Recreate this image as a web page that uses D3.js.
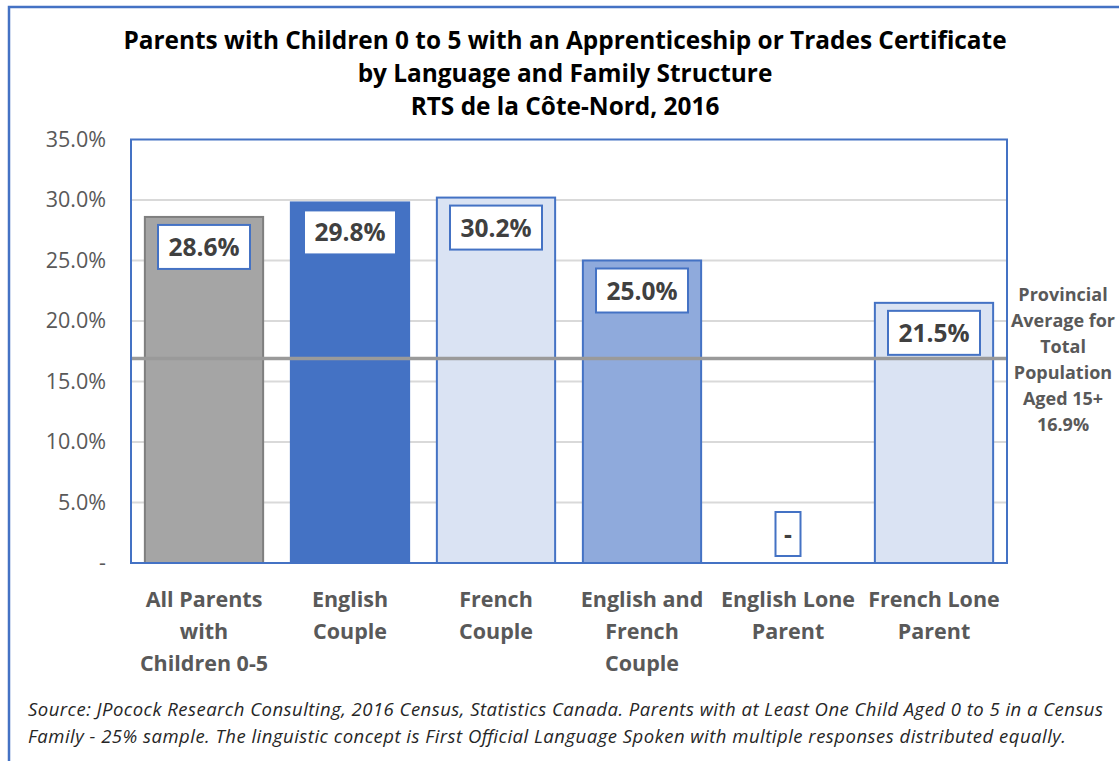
<!DOCTYPE html>
<html><head><meta charset="utf-8">
<script src="https://cdn.jsdelivr.net/npm/d3@7"></script>
<style>body{margin:0;background:#fff}svg{display:block}</style>
</head><body>
<script>
const categories = [["All Parents","with","Children 0-5"],["English","Couple"],["French","Couple"],["English and","French","Couple"],["English Lone","Parent"],["French Lone","Parent"]];
const values = [28.6, 29.8, 30.2, 25.0, 0, 21.5];
const valueLabels = ["28.6%","29.8%","30.2%","25.0%","-","21.5%"];
const fills = ["#a5a5a5","#4472c4","#dae3f3","#8faadc","#dae3f3","#dae3f3"];
const strokes = ["#7f7f7f","#4472c4","#4472c4","#4472c4","#4472c4","#4472c4"];
const yTicks = [0,5,10,15,20,25,30,35];
const provincialAvg = 16.9;
const avgLabel = ["Provincial","Average for","Total","Population","Aged 15+","16.9%"];
const titleLines = ["Parents with Children 0 to 5 with an Apprenticeship or Trades Certificate","by Language and Family Structure","RTS de la Côte-Nord, 2016"];
const sourceLines = ["Source: JPocock Research Consulting, 2016 Census, Statistics Canada. Parents with at Least One Child Aged 0 to 5 in a Census","Family - 25% sample. The linguistic concept is First Official Language Spoken with multiple responses distributed equally."];

const W=1119,H=761;
const svg=d3.select("body").append("svg").attr("width",W).attr("height",H);
const font="'Open Sans', Lato, sans-serif";
// outer frame
svg.append("path").attr("d",`M9,${H+5} V7 H${W+5}`).attr("fill","none").attr("stroke","#4472c4").attr("stroke-width",2.5);

const L=131,R=1007,T=139.5,B=563;
const x=d3.scaleBand().domain(d3.range(values.length)).range([L,R]).paddingInner(0.19).paddingOuter(0.095);
const y=d3.scaleLinear().domain([0,35]).range([B,T]);

// gridlines
svg.append("g").selectAll("line").data(yTicks.slice(1,-1)).join("line")
 .attr("x1",L).attr("x2",R).attr("y1",d=>y(d)).attr("y2",d=>y(d))
 .attr("stroke","#d9d9d9").attr("stroke-width",2);

// y axis labels
const yAxis=d3.axisLeft(y).tickValues(yTicks).tickSize(0).tickPadding(0)
 .tickFormat(d=>d===0?"-":d.toFixed(1)+"%");
const ga=svg.append("g").attr("transform",`translate(106,0)`).call(yAxis);
ga.select(".domain").remove();
ga.selectAll("text").attr("font-family",font).attr("font-size",21.5).attr("fill","#595959");

// bars
svg.append("g").selectAll("rect").data(values).join("rect")
 .attr("x",(d,i)=>x(i)).attr("width",x.bandwidth())
 .attr("y",d=>y(d)).attr("height",d=>B-y(d))
 .attr("fill",(d,i)=>fills[i]).attr("stroke",(d,i)=>strokes[i]).attr("stroke-width",2)
 .attr("display",d=>d===0?"none":null);

// average line
svg.append("line").attr("x1",L).attr("x2",R).attr("y1",y(provincialAvg)).attr("y2",y(provincialAvg))
 .attr("stroke","#9a9a9a").attr("stroke-width",3.5);

// plot area border
svg.append("rect").attr("x",L).attr("y",T).attr("width",R-L).attr("height",B-T)
 .attr("fill","none").attr("stroke","#4472c4").attr("stroke-width",2);

// value labels
const lg=svg.append("g").selectAll("g").data(values).join("g");
lg.each(function(d,i){
  const g=d3.select(this);
  const cx=x(i)+x.bandwidth()/2;
  const t=g.append("text").attr("x",cx).attr("text-anchor","middle")
    .attr("font-family",font).attr("font-weight","bold").attr("font-size",24.5).attr("fill","#404040")
    .text(valueLabels[i]);
  const bw = d===0?25:92, bh=44;
  const top = d===0 ? B-7-bh : y(d)+8;
  g.insert("rect","text").attr("x",cx-bw/2).attr("y",top).attr("width",bw).attr("height",bh)
   .attr("fill","#fff").attr("stroke","#4472c4").attr("stroke-width",2);
  t.attr("y",top+bh/2+9);
});

// x labels
svg.append("g").selectAll("text").data(categories).join("text")
 .attr("text-anchor","middle").attr("font-family",font).attr("font-weight","bold").attr("font-size",21.5).attr("fill","#595959")
 .attr("transform",(d,i)=>`translate(${x(i)+x.bandwidth()/2},0)`)
 .each(function(d){
   d3.select(this).selectAll("tspan").data(d).join("tspan").attr("x",0).attr("y",(s,j)=>607+j*32).text(s=>s);
 });

// average annotation
svg.append("text").attr("text-anchor","middle").attr("font-family",font).attr("font-weight","bold").attr("font-size",18).attr("fill","#595959")
 .selectAll("tspan").data(avgLabel).join("tspan").attr("x",1063).attr("y",(s,j)=>301+j*26).text(s=>s);

// title
svg.append("text").attr("text-anchor","middle").attr("font-family",font).attr("font-weight","bold").attr("font-size",24.4).attr("fill","#000")
 .selectAll("tspan").data(titleLines).join("tspan").attr("x",565).attr("y",(s,j)=>49+j*33).text(s=>s);

// source
const srcWidths=[1075,1038];
svg.append("text").attr("font-family",font).attr("font-style","italic").attr("font-size",18.5).attr("fill","#262626")
 .selectAll("tspan").data(sourceLines).join("tspan").attr("x",28).attr("y",(s,j)=>716+j*27)
 .attr("textLength",(s,j)=>srcWidths[j]).attr("lengthAdjust","spacing").text(s=>s);
</script>
</body></html>
